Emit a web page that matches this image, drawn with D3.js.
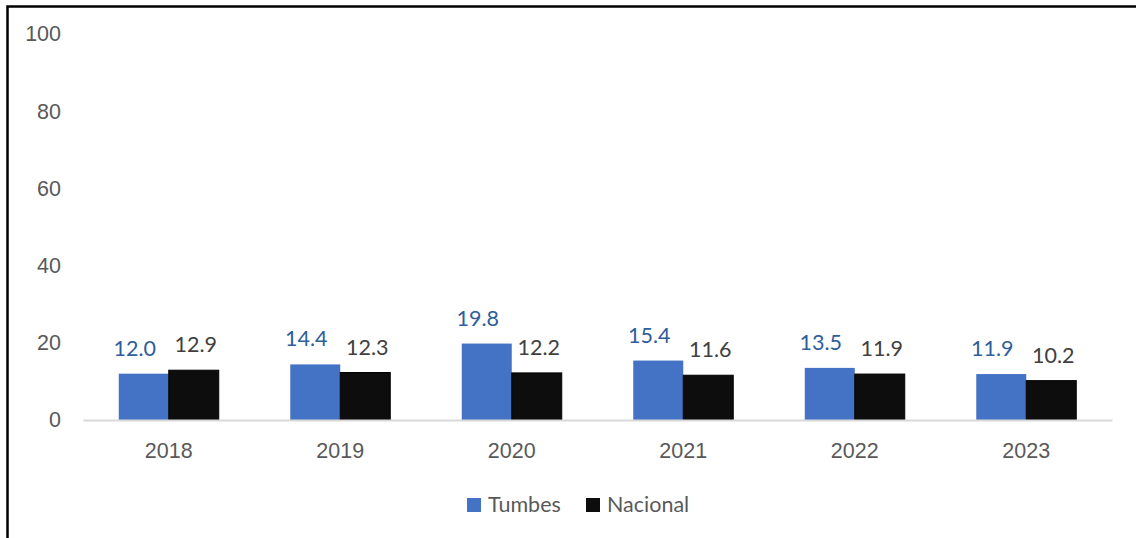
<!DOCTYPE html>
<html>
<head>
<meta charset="utf-8">
<script src="https://cdn.jsdelivr.net/npm/d3@7"></script>
<style>
  body { margin: 0; background: #fff; }
  svg { display: block; font-family: Lato, "Open Sans", sans-serif; }
</style>
</head>
<body>
<div id="chart"></div>
<script>
// chart values
var years = ["2018", "2019", "2020", "2021", "2022", "2023"];
var tumbes = [12.0, 14.4, 19.8, 15.4, 13.5, 11.9];
var nacional = [12.9, 12.3, 12.2, 11.6, 11.9, 10.2];
var seriesNames = ["Tumbes", "Nacional"];
var yTicks = [0, 20, 40, 60, 80, 100];

var W = 1136, H = 538;
var margin = {top: 34, right: 24, bottom: 118, left: 83},
    width = W - margin.left - margin.right,
    height = H - margin.top - margin.bottom;

var colors = {Tumbes: "#4472c4", Nacional: "#0d0d0d"};
var labelColors = {Tumbes: "#2e5e9c", Nacional: "#404040"};
var fontSize = "21.5px";

var svg = d3.select("#chart").append("svg")
    .attr("width", W)
    .attr("height", H);

// outer frame (left + top only visible)
svg.append("path")
    .attr("d", "M7.5," + H + "V6.5H" + W)
    .attr("fill", "none")
    .attr("stroke", "#000")
    .attr("stroke-width", 2.5);

var g = svg.append("g")
    .attr("transform", "translate(" + margin.left + "," + margin.top + ")");

var x = d3.scaleBand()
    .domain(years)
    .range([0, width])
    .paddingInner(0.417)
    .paddingOuter(0.2085);

var x1 = d3.scaleBand()
    .domain(seriesNames)
    .range([0, x.bandwidth()]);

var y = d3.scaleLinear()
    .domain([0, 100])
    .range([height, 0]);

// y axis labels (no line)
var yAxis = g.append("g")
    .call(d3.axisLeft(y).tickValues(yTicks).tickSize(0).tickPadding(22));
yAxis.select(".domain").remove();
yAxis.selectAll("text")
    .attr("fill", "#595959")
    .style("font-size", fontSize);

var data = years.map(function(yr, i) {
    return {year: yr, values: [
        {key: "Tumbes", value: tumbes[i]},
        {key: "Nacional", value: nacional[i]}
    ]};
});

var groups = g.selectAll(".grp")
    .data(data)
    .enter().append("g")
    .attr("class", "grp")
    .attr("transform", function(d) { return "translate(" + x(d.year) + ",0)"; });

groups.selectAll("rect")
    .data(function(d) { return d.values; })
    .enter().append("rect")
    .attr("x", function(d) { return x1(d.key); })
    .attr("y", function(d) { return y(d.value); })
    .attr("width", x1.bandwidth())
    .attr("height", function(d) { return height - y(d.value); })
    .attr("fill", function(d) { return colors[d.key]; })
    .attr("stroke", function(d) { return d.key === "Nacional" ? "#000" : "none"; })
    .attr("stroke-width", 1);

groups.selectAll("text")
    .data(function(d) { return d.values; })
    .enter().append("text")
    .attr("x", function(d) { return x1(d.key) + x1.bandwidth() / 2 + (d.key === "Tumbes" ? -9 : 2); })
    .attr("y", function(d) { return y(d.value) - 18; })
    .attr("text-anchor", "middle")
    .attr("fill", function(d) { return labelColors[d.key]; })
    .style("font-size", fontSize)
    .text(function(d) { return d.value.toFixed(1); });

// x axis
var xAxis = g.append("g")
    .attr("transform", "translate(0," + height + ")")
    .call(d3.axisBottom(x).tickSize(0).tickPadding(23));
xAxis.select(".domain")
    .attr("stroke", "#d9d9d9")
    .attr("stroke-width", 2);
xAxis.selectAll("text")
    .attr("fill", "#595959")
    .style("font-size", fontSize);

// legend
var legend = svg.append("g")
    .attr("transform", "translate(467,498)");
var lx = [0, 119];
seriesNames.forEach(function(name, i) {
    var item = legend.append("g").attr("transform", "translate(" + lx[i] + ",0)");
    item.append("rect")
        .attr("width", 14)
        .attr("height", 14)
        .attr("fill", colors[name]);
    item.append("text")
        .attr("x", 21)
        .attr("y", 14)
        .attr("fill", "#595959")
        .style("font-size", fontSize)
        .text(name);
});
</script>
</body>
</html>
